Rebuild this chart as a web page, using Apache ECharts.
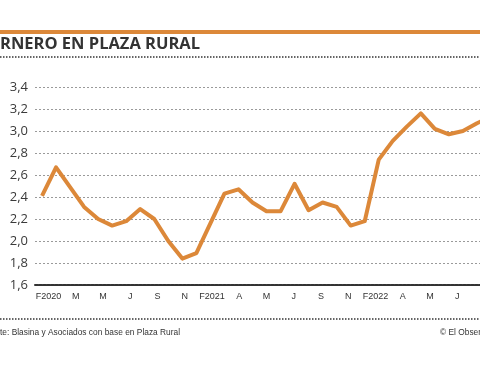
<!DOCTYPE html>
<html>
<head>
<meta charset="utf-8">
<script src="https://cdn.jsdelivr.net/npm/echarts@6/dist/echarts.min.js"></script>
<style>
html,body{margin:0;padding:0;background:#fff;overflow:hidden;}
#c{width:520px;height:365px;}
</style>
</head>
<body>
<div id="c"></div>
<script>
// Data (monthly, Feb 2020 onward)
const months = ['feb20','mar20','abr20','may20','jun20','jul20','ago20','set20','oct20','nov20','dic20','ene21',
  'feb21','mar21','abr21','may21','jun21','jul21','ago21','set21','oct21','nov21','dic21','ene22',
  'feb22','mar22','abr22','may22','jun22','jul22','ago22','set22','oct22'];
const prices = [2.41,2.67,2.49,2.31,2.20,2.14,2.18,2.29,2.20,2.00,1.84,1.89,
  2.16,2.43,2.47,2.35,2.27,2.27,2.52,2.28,2.35,2.31,2.14,2.18,
  2.74,2.91,3.04,3.16,3.02,2.97,3.00,3.07,3.13];
const tickLabels = ['F2020','M','M','J','S','N','F2021','A','M','J','S','N','F2022','A','M','J',''];
const yMin = 1.6, yMax = 3.4, yStep = 0.2;
const titleText = 'RNERO EN PLAZA RURAL';
const sourceText = 'te: Blasina y Asociados con base en Plaza Rural';
const creditText = '© El Observador';

const chart = echarts.init(document.getElementById('c'), null, {renderer:'canvas'});
const orange = '#DC8839';
chart.setOption({
  animation:false,
  backgroundColor:'#fff',
  grid:{left:35, top:87, width:463, height:198, containLabel:false},
  xAxis:[{
    type:'category', data:months, boundaryGap:true,
    axisLabel:{show:false}, axisTick:{show:false},
    axisLine:{show:true, lineStyle:{color:'#333', width:2, type:[3,1]}},
    splitLine:{show:false}
  },{
    type:'category', data:tickLabels, boundaryGap:true, position:'bottom',
    axisLine:{show:false}, axisTick:{show:false},
    axisLabel:{interval:0, fontSize:9, color:'#333', fontFamily:'Liberation Sans', margin:7}
  }],
  yAxis:{
    type:'value', min:yMin, max:yMax, interval:yStep,
    axisLine:{show:false}, axisTick:{show:false},
    axisLabel:{fontSize:13, color:'#3a3a3a', fontFamily:'Open Sans', margin:7,
      formatter:v=>v.toFixed(1).replace('.',',')},
    splitLine:{show:true, lineStyle:{color:'#9a9a9a', width:1, type:[2,2]}}
  },
  series:[{
    type:'line', xAxisIndex:0, data:prices, symbol:'none',
    lineStyle:{color:orange, width:4, join:'round'}
  }],
  graphic:[
    {type:'rect', shape:{x:0,y:30,width:520,height:4}, style:{fill:orange}},
    {type:'text', x:0, y:36, style:{text:titleText, font:'bold 16.5px "Open Sans"', fill:'#333'}},
    {type:'line', shape:{x1:0,y1:57,x2:520,y2:57}, style:{stroke:'#333', lineWidth:1.5, lineDash:[1.5,1.5]}},
    {type:'line', shape:{x1:0,y1:319,x2:520,y2:319}, style:{stroke:'#333', lineWidth:1.5, lineDash:[1.5,1.5]}},
    {type:'text', x:0, y:328, scaleX:0.93, style:{text:sourceText, font:'9px "Liberation Sans"', fill:'#333'}},
    {type:'text', x:440, y:328, scaleX:0.93, style:{text:creditText, font:'9px "Liberation Sans"', fill:'#333'}}
  ]
});
</script>
</body>
</html>
